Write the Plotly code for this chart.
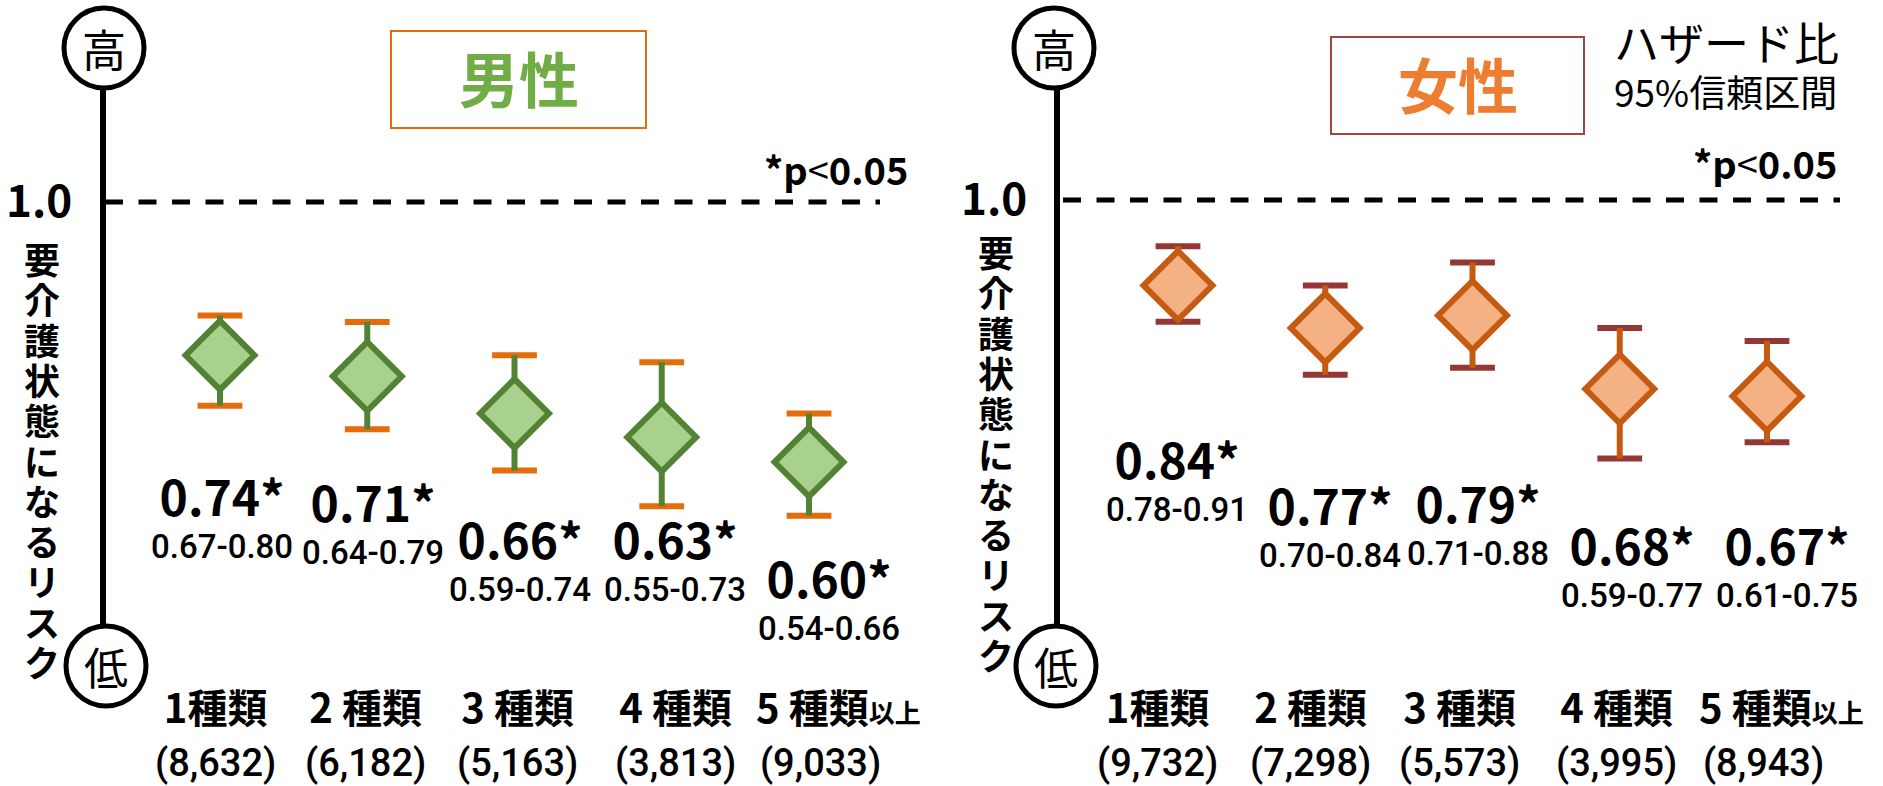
import plotly.graph_objects as go

# ---------------- data ----------------
CATEGORIES = ["1種類", "2 種類", "3 種類", "4 種類", "5 種類以上"]
MEN_N = ["8,632", "6,182", "5,163", "3,813", "9,033"]
WOMEN_N = ["9,732", "7,298", "5,573", "3,995", "8,943"]
MEN_HR = [0.74, 0.71, 0.66, 0.63, 0.60]
MEN_LO = [0.67, 0.64, 0.59, 0.55, 0.54]
MEN_HI = [0.80, 0.79, 0.74, 0.73, 0.66]
WOMEN_HR = [0.84, 0.77, 0.79, 0.68, 0.67]
WOMEN_LO = [0.78, 0.70, 0.71, 0.59, 0.61]
WOMEN_HI = [0.91, 0.84, 0.88, 0.77, 0.75]
REF_HR = 1.0
Y_TICK_VALS = [1.0]
Y_TICK_TEXT = ["1.0"]
SIG = "*"
Y_LABEL = "要介護状態になるリスク"

# ---------------- layout (pixels) ----------------
W, H = 1883, 786
FONT = "Noto Sans CJK JP"
NUMFONT = "Roboto"


def px(x):
    return x / W


def py(y):
    return 1 - y / H


PANELS = [
    dict(sfx="", title="男性", title_color="#70AD47", box=(391, 31, 646, 128), box_color="#E46C0A",
         title_xy=(519, 77), hr=MEN_HR, lo=MEN_LO, hi=MEN_HI, n=MEN_N,
         fill="#A9D18E", edge="#548235", cap="#E46C0A",
         dom=(103, 940), p0=220, p4=809, y_ref_px=202, px_per_dec=1172,
         axis_x=103, circ_top=(104, 48), circ_bot=(106, 666), dash=(105, 880),
         tick_standoff=21, pval_xy=(836, 168), vtext=(42, 459),
         lab_pos=[(222, 498), (373, 504), (520, 541), (675, 541), (829, 580)],
         cat_x=[215, 365, 517, 675, 754]),
    dict(sfx="2", title="女性", title_color="#ED7D31", box=(1331, 37, 1584, 134), box_color="#A5433F",
         title_xy=(1458, 83), hr=WOMEN_HR, lo=WOMEN_LO, hi=WOMEN_HI, n=WOMEN_N,
         fill="#F4B183", edge="#C55A11", cap="#953735",
         dom=(1057, 1883), p0=1178, p4=1767, y_ref_px=200, px_per_dec=1128,
         axis_x=1057, circ_top=(1054, 48), circ_bot=(1056, 666), dash=(1063, 1840),
         tick_standoff=20, pval_xy=(1765, 162), vtext=(996, 452),
         lab_pos=[(1177, 461), (1330, 507), (1478, 505), (1632, 547), (1787, 547)],
         cat_x=[1157, 1310, 1459, 1616, 1697]),
]

fig = go.Figure()
shapes = []
annotations = []
layout_axes = {}

for p in PANELS:
    sfx = p["sfx"]
    xa, ya = "x" + sfx, "y" + sfx
    idx = list(range(len(p["hr"])))
    s = (p["p4"] - p["p0"]) / (len(idx) - 1)
    d0, d1 = p["dom"]
    xr = [(d0 - p["p0"]) / s, (d1 - p["p0"]) / s]
    top = p["y_ref_px"] / p["px_per_dec"]
    bot = -(H - p["y_ref_px"]) / p["px_per_dec"]
    layout_axes["xaxis" + sfx] = dict(domain=[px(d0), px(d1)], range=xr, visible=False,
                                      anchor=ya, fixedrange=True)
    layout_axes["yaxis" + sfx] = dict(domain=[0, 1], type="log", range=[bot, top], anchor=xa,
                                      tickvals=Y_TICK_VALS, ticktext=Y_TICK_TEXT,
                                      ticks="outside", ticklen=p["tick_standoff"],
                                      tickcolor="rgba(0,0,0,0)", showline=False,
                                      showgrid=False, zeroline=False,
                                      tickfont=dict(family=FONT, size=44, color="black", weight="bold"),
                                      fixedrange=True)

    # caps
    fig.add_trace(go.Scatter(
        x=idx + idx, y=p["hi"] + p["lo"], mode="markers", xaxis=xa, yaxis=ya,
        marker=dict(symbol="line-ew", size=32, line=dict(width=6, color=p["cap"])),
        hoverinfo="skip", showlegend=False))
    # diamonds + stems
    fig.add_trace(go.Scatter(
        x=idx, y=p["hr"], mode="markers", xaxis=xa, yaxis=ya,
        marker=dict(symbol="diamond", size=53, color=p["fill"],
                    line=dict(width=6, color=p["edge"])),
        error_y=dict(type="data", symmetric=False,
                     array=[h - r for h, r in zip(p["hi"], p["hr"])],
                     arrayminus=[r - l for r, l in zip(p["hr"], p["lo"])],
                     color=p["edge"], thickness=6, width=0),
        hoverinfo="skip", showlegend=False))

    # vertical axis line
    shapes.append(dict(type="line", xref="paper", yref="paper",
                       x0=px(p["axis_x"]), x1=px(p["axis_x"]),
                       y0=py(p["circ_top"][1]), y1=py(p["circ_bot"][1]),
                       line=dict(color="black", width=6), layer="above"))
    # reference dashed line at HR = 1.0
    shapes.append(dict(type="line", xref="paper", yref=ya,
                       x0=px(p["dash"][0]), x1=px(p["dash"][1]), y0=REF_HR, y1=REF_HR,
                       line=dict(color="black", width=5, dash="18px,15.5px"), layer="above"))
    # circles
    for (cx, cy), ch in ((p["circ_top"], "高"), (p["circ_bot"], "低")):
        r = 40
        shapes.append(dict(type="circle", xref="paper", yref="paper",
                           x0=px(cx - r), x1=px(cx + r), y0=py(cy + r), y1=py(cy - r),
                           fillcolor="white", line=dict(color="black", width=5), layer="above"))
        annotations.append(dict(xref="paper", yref="paper", x=px(cx), y=py(cy), text=ch,
                                showarrow=False, xanchor="center", yanchor="middle",
                                font=dict(family=FONT, size=44, color="black")))
    # title box
    bx0, by0, bx1, by1 = p["box"]
    shapes.append(dict(type="rect", xref="paper", yref="paper",
                       x0=px(bx0), x1=px(bx1), y0=py(by1), y1=py(by0),
                       line=dict(color=p["box_color"], width=2), fillcolor="rgba(0,0,0,0)"))
    annotations.append(dict(xref="paper", yref="paper", x=px(p["title_xy"][0]), y=py(p["title_xy"][1]),
                            text=p["title"], showarrow=False, xanchor="center", yanchor="middle",
                            font=dict(family=FONT, size=60, color=p["title_color"], weight="bold")))
    # p-value note
    annotations.append(dict(xref="paper", yref="paper", x=px(p["pval_xy"][0]), y=py(p["pval_xy"][1]),
                            text="*p<span style='font-weight:normal'>&lt;</span>0.05",
                            showarrow=False, xanchor="center", yanchor="middle",
                            font=dict(family=FONT, size=38, color="black", weight="bold")))
    # vertical y label (one annotation, one character per line)
    vx, vy = p["vtext"]
    vtxt = "<br>".join(f"<span style='font-size:36px'>{ch}</span>" for ch in Y_LABEL)
    annotations.append(dict(xref="paper", yref="paper", x=px(vx), y=py(vy), text=vtxt,
                            showarrow=False, xanchor="center", yanchor="middle", align="center",
                            font=dict(family=FONT, size=31, color="black", weight="bold")))
    # value labels: HR (bold) over CI
    for i in idx:
        lx, ly = p["lab_pos"][i]
        txt = (f"<b><span style='font-size:48px'>{p['hr'][i]:.2f}{SIG}</span></b><br>"
               f"<span style='font-size:33px;font-family:{NUMFONT};font-weight:500'>"
               f"{p['lo'][i]:.2f}-{p['hi'][i]:.2f}</span>")
        annotations.append(dict(xref="paper", yref="paper", x=px(lx), y=py(ly + 14.6),
                                text=txt, showarrow=False, xanchor="center", yanchor="middle",
                                align="center",
                                font=dict(family=FONT, size=32.5, color="black")))
        # category + count
        cat = CATEGORIES[i]
        last = cat.endswith("以上")
        if last:
            cat = cat[:-2] + "<span style='font-size:26px'>以上</span>"
        pre = "&#8202;" if last else ""
        txt = (f"<b><span style='font-size:40px'>{cat}</span></b><br>"
               f"<span style='font-size:38px;font-family:{NUMFONT};font-weight:500'>"
               f"{pre}({p['n'][i]})</span>")
        annotations.append(dict(xref="paper", yref="paper", x=px(p["cat_x"][i]), y=py(731),
                                text=txt, showarrow=False,
                                xanchor="left" if last else "center", yanchor="middle",
                                align="left" if last else "center",
                                font=dict(family=FONT, size=40.8, color="black")))

# legend-like text at top right
annotations.append(dict(xref="paper", yref="paper", x=px(1726), y=py(42), text="ハザード比",
                        showarrow=False, xanchor="center", yanchor="middle",
                        font=dict(family=FONT, size=45, color="black")))
annotations.append(dict(xref="paper", yref="paper", x=px(1725), y=py(91), text="95%信頼区間",
                        showarrow=False, xanchor="center", yanchor="middle",
                        font=dict(family=FONT, size=37, color="black")))

fig.update_layout(
    width=W, height=H, autosize=False,
    margin=dict(l=0, r=0, t=0, b=0, pad=0),
    paper_bgcolor="white", plot_bgcolor="rgba(0,0,0,0)",
    showlegend=False, shapes=shapes, annotations=annotations,
    font=dict(family=FONT, color="black"),
    **layout_axes,
)

fig.write_html("out.html", config={"displayModeBar": False})
